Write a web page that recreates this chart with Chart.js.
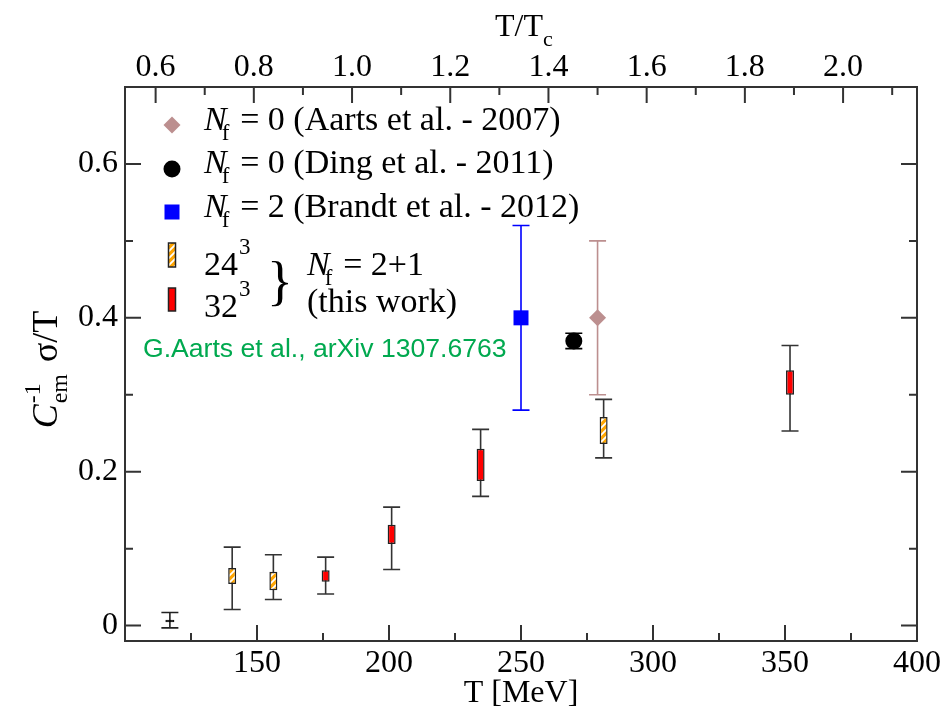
<!DOCTYPE html>
<html>
<head>
<meta charset="utf-8">
<script src="https://cdn.jsdelivr.net/npm/chart.js@4/dist/chart.umd.min.js"></script>
<style>
  html, body { margin: 0; padding: 0; background: #fff; }
  #wrap { width: 947px; height: 709px; }
</style>
</head>
<body>
<div id="wrap"><canvas id="chart" width="947" height="709"></canvas></div>
<script>
// axis ranges (T in MeV, top axis is T/Tc)
const Tc = 186;
const xRange = [100, 400];
const yRange = [-0.02, 0.7];

// earlier results: value with symmetric error
const aartsT = [279];
const aartsVal = [0.40];
const aartsErr = [0.10];

const dingT = [270];
const dingVal = [0.37];
const dingErr = [0.01];

const brandtT = [250];
const brandtVal = [0.40];
const brandtErr = [0.12];

// Nf = 2+1 (this work): box = [low, high], whisker = [low, high]
const l24T = [140.6, 156.2, 281.3];
const l24Box = [[0.054, 0.075], [0.046, 0.070], [0.236, 0.271]];
const l24Err = [[0.021, 0.102], [0.034, 0.092], [0.218, 0.294]];

const l32T = [176, 201, 234.7, 351.9];
const l32Box = [[0.057, 0.072], [0.106, 0.131], [0.188, 0.230], [0.300, 0.332]];
const l32Err = [[0.041, 0.089], [0.073, 0.154], [0.168, 0.255], [0.253, 0.364]];

const lowT = [117];
const lowBox = [[0.0045, 0.0075]];
const lowErr = [[-0.003, 0.017]];

const SERIF = '"Liberation Serif", "Times New Roman", serif';

function hatchPattern() {
  const c = document.createElement('canvas');
  c.width = 7; c.height = 7;
  const g = c.getContext('2d');
  g.fillStyle = '#ffa500';
  g.fillRect(0, 0, 7, 7);
  g.strokeStyle = '#ffffff';
  g.lineWidth = 1.8;
  g.beginPath();
  g.moveTo(-1, 8); g.lineTo(8, -1);
  g.moveTo(-1, 1); g.lineTo(1, -1);
  g.moveTo(6, 8); g.lineTo(8, 6);
  g.stroke();
  return g.createPattern(c, 'repeat');
}
const hatch = hatchPattern();

function pts(ts, vals) {
  return ts.map((t, i) => ({ x: t, y: vals[i] }));
}
function symErr(vals, errs) {
  return vals.map((v, i) => [v - errs[i], v + errs[i]]);
}

// whiskers under the markers
const errorBars = {
  id: 'errorBars',
  beforeDatasetsDraw(chart) {
    const { ctx, scales: { x, y } } = chart;
    chart.data.datasets.forEach(ds => {
      if (!ds.whiskers) return;
      ctx.save();
      ctx.strokeStyle = ds.whiskerColor;
      ctx.lineWidth = 1.6;
      ds.data.forEach((d, i) => {
        const [lo, hi] = ds.whiskers[i];
        const px = x.getPixelForValue(d.x);
        const y1 = y.getPixelForValue(lo);
        const y2 = y.getPixelForValue(hi);
        ctx.beginPath();
        ctx.moveTo(px, y1); ctx.lineTo(px, y2);
        ctx.moveTo(px - 8.5, y1); ctx.lineTo(px + 8.5, y1);
        ctx.moveTo(px - 8.5, y2); ctx.lineTo(px + 8.5, y2);
        ctx.stroke();
      });
      ctx.restore();
    });
  }
};

// frame, inward ticks, titles and the legend
const decorations = {
  id: 'decorations',
  afterDraw(chart) {
    const { ctx, chartArea: a, scales } = chart;
    ctx.save();
    ctx.strokeStyle = '#333';
    ctx.lineWidth = 2;
    ctx.strokeRect(a.left, a.top, a.right - a.left, a.bottom - a.top);

    ctx.beginPath();
    scales.x.ticks.forEach(t => {
      const px = scales.x.getPixelForValue(t.value);
      if (px <= a.left + 1 || px >= a.right - 1) return;
      const len = t.value % 50 === 0 ? 16 : 8;
      ctx.moveTo(px, a.bottom); ctx.lineTo(px, a.bottom - len);
    });
    scales.x2.ticks.forEach(t => {
      const px = scales.x2.getPixelForValue(t.value);
      if (px <= a.left + 1 || px >= a.right - 1) return;
      const len = Math.round(t.value * 10) % 2 === 0 ? 16 : 8;
      ctx.moveTo(px, a.top); ctx.lineTo(px, a.top + len);
    });
    scales.y.ticks.forEach(t => {
      const py = scales.y.getPixelForValue(t.value);
      if (py <= a.top + 1 || py >= a.bottom - 1) return;
      const len = Math.round(t.value * 10) % 2 === 0 ? 16 : 8;
      ctx.moveTo(a.left, py); ctx.lineTo(a.left + len, py);
      ctx.moveTo(a.right, py); ctx.lineTo(a.right - len, py);
    });
    ctx.stroke();

    ctx.fillStyle = '#000';
    ctx.textBaseline = 'alphabetic';
    // bottom title
    ctx.font = '32px ' + SERIF;
    ctx.textAlign = 'center';
    ctx.fillText('T [MeV]', (a.left + a.right) / 2, 702);
    // top title T/Tc
    ctx.textAlign = 'left';
    const tw = ctx.measureText('T/T').width;
    const tx = 524 - tw / 2 - 5;
    ctx.fillText('T/T', tx, 36);
    ctx.font = '22px ' + SERIF;
    ctx.fillText('c', tx + tw, 46);

    // y title, rotated
    ctx.save();
    ctx.translate(57, 370);
    ctx.rotate(-Math.PI / 2);
    ctx.font = 'italic 36px ' + SERIF;
    const cW = ctx.measureText('C').width;
    ctx.font = '24px ' + SERIF;
    const emW = ctx.measureText('em').width;
    ctx.font = '36px ' + SERIF;
    const sW = ctx.measureText('\u03c3/T').width;
    const gap = 12;
    const total = cW + emW + gap + sW;
    let cx = -total / 2;
    ctx.font = 'italic 36px ' + SERIF;
    ctx.fillText('C', cx, 0);
    cx += cW + 1;
    ctx.font = '24px ' + SERIF;
    ctx.fillText('-1', cx, -17);
    ctx.fillText('em', cx, 10);
    cx += emW + gap;
    ctx.font = '36px ' + SERIF;
    ctx.fillText('\u03c3/T', cx, 0);
    ctx.restore();

    drawLegend(ctx);
    ctx.restore();
  }
};

function nfLabel(ctx, x, base, rest) {
  ctx.font = 'italic 34px ' + SERIF;
  ctx.fillText('N', x, base);
  const nW = ctx.measureText('N').width;
  ctx.font = '23px ' + SERIF;
  ctx.fillText('f', x + nW - 5, base + 10);
  ctx.font = '34px ' + SERIF;
  ctx.fillText(rest, x + nW + 5, base);
}

function drawLegend(ctx) {
  const sx = 172, tx = 204;
  ctx.textAlign = 'left';
  ctx.fillStyle = '#000';

  // diamond
  ctx.fillStyle = '#bc8f8f';
  ctx.beginPath();
  ctx.moveTo(sx - 8.5, 125); ctx.lineTo(sx, 116.5); ctx.lineTo(sx + 8.5, 125); ctx.lineTo(sx, 133.5);
  ctx.closePath(); ctx.fill();
  // circle
  ctx.fillStyle = '#000';
  ctx.beginPath(); ctx.arc(sx, 169, 8.5, 0, Math.PI * 2); ctx.fill();
  // square
  ctx.fillStyle = '#0000ff';
  ctx.fillRect(sx - 7.5, 204.5, 15, 15);
  // boxes
  ctx.lineWidth = 1.5;
  ctx.strokeStyle = '#222';
  ctx.fillStyle = hatch;
  ctx.fillRect(sx - 3.5, 243, 7, 24); ctx.strokeRect(sx - 3.5, 243, 7, 24);
  ctx.fillStyle = '#ff0000';
  ctx.fillRect(sx - 3.5, 288, 7, 23); ctx.strokeRect(sx - 3.5, 288, 7, 23);

  ctx.fillStyle = '#000';
  nfLabel(ctx, tx, 130, ' = 0 (Aarts et al. - 2007)');
  nfLabel(ctx, tx, 173, ' = 0 (Ding et al. - 2011)');
  nfLabel(ctx, tx, 217, ' = 2 (Brandt et al. - 2012)');

  ctx.font = '34px ' + SERIF;
  ctx.fillText('24', tx, 275);
  ctx.fillText('32', tx, 317);
  const dW = ctx.measureText('24').width;
  ctx.font = '23px ' + SERIF;
  ctx.fillText('3', tx + dW + 1, 254);
  ctx.fillText('3', tx + dW + 1, 296);

  ctx.font = '54px ' + SERIF;
  ctx.fillText('}', 267, 299);

  nfLabel(ctx, 307, 275, ' = 2+1');
  ctx.font = '34px ' + SERIF;
  ctx.fillText('(this work)', 307, 312);

  ctx.fillStyle = '#00a94f';
  ctx.font = '26.6px "Liberation Sans", Arial, sans-serif';
  ctx.fillText('G.Aarts et al., arXiv 1307.6763', 143, 357);
}

const tickFont = { family: SERIF, size: 32 };

new Chart(document.getElementById('chart'), {
  type: 'scatter',
  data: {
    datasets: [
      {
        label: 'Nf=0 (Aarts et al. - 2007)',
        data: pts(aartsT, aartsVal),
        whiskers: symErr(aartsVal, aartsErr),
        whiskerColor: '#bc8f8f',
        pointStyle: 'rectRot',
        pointRadius: 8.5,
        backgroundColor: '#bc8f8f',
        borderWidth: 0
      },
      {
        label: 'Nf=0 (Ding et al. - 2011)',
        data: pts(dingT, dingVal),
        whiskers: symErr(dingVal, dingErr),
        whiskerColor: '#000',
        pointStyle: 'circle',
        pointRadius: 8.5,
        backgroundColor: '#000',
        borderWidth: 0
      },
      {
        label: 'Nf=2 (Brandt et al. - 2012)',
        data: pts(brandtT, brandtVal),
        whiskers: symErr(brandtVal, brandtErr),
        whiskerColor: '#0000ff',
        pointStyle: 'rect',
        pointRadius: 10.6,
        backgroundColor: '#0000ff',
        borderWidth: 0
      },
      {
        type: 'bar',
        label: '24^3',
        data: pts(l24T, l24Box),
        whiskers: l24Err,
        whiskerColor: '#333',
        backgroundColor: hatch,
        borderColor: '#222',
        borderWidth: 1.5,
        borderSkipped: false,
        grouped: false,
        maxBarThickness: 8
      },
      {
        type: 'bar',
        label: '32^3',
        data: pts(l32T, l32Box),
        whiskers: l32Err,
        whiskerColor: '#333',
        backgroundColor: '#ff0000',
        borderColor: '#222',
        borderWidth: 1.5,
        borderSkipped: false,
        grouped: false,
        maxBarThickness: 8
      },
      {
        type: 'bar',
        label: 'low T',
        data: pts(lowT, lowBox),
        whiskers: lowErr,
        whiskerColor: '#222',
        backgroundColor: '#000',
        borderColor: '#000',
        borderWidth: 1,
        borderSkipped: false,
        grouped: false,
        maxBarThickness: 9
      }
    ]
  },
  options: {
    responsive: false,
    animation: false,
    devicePixelRatio: 1,
    layout: { padding: { left: 0, right: 30, top: 0, bottom: 0 } },
    plugins: { legend: { display: false }, tooltip: { enabled: false } },
    scales: {
      x: {
        type: 'linear',
        position: 'bottom',
        min: xRange[0],
        max: xRange[1],
        offset: false,
        grid: { display: false, drawTicks: false },
        border: { display: false },
        ticks: {
          stepSize: 25,
          includeBounds: false,
          maxTicksLimit: 100,
          autoSkip: false,
          maxRotation: 0,
          padding: 3,
          color: '#000',
          font: tickFont,
          callback: v => (v % 50 === 0 && v > xRange[0]) ? String(v) : ''
        },
        afterFit: s => { s.height = 68; }
      },
      x2: {
        type: 'linear',
        position: 'top',
        min: xRange[0] / Tc,
        max: xRange[1] / Tc,
        grid: { display: false, drawTicks: false },
        border: { display: false },
        ticks: {
          stepSize: 0.1,
          includeBounds: false,
          maxTicksLimit: 100,
          autoSkip: false,
          maxRotation: 0,
          padding: 0,
          color: '#000',
          font: tickFont,
          callback: v => Math.round(v * 10) % 2 === 0 ? v.toFixed(1) : ''
        },
        afterFit: s => { s.height = 87; }
      },
      y: {
        type: 'linear',
        position: 'left',
        min: yRange[0],
        max: yRange[1],
        grid: { display: false, drawTicks: false },
        border: { display: false },
        ticks: {
          stepSize: 0.1,
          includeBounds: false,
          maxTicksLimit: 100,
          autoSkip: false,
          padding: 7,
          color: '#000',
          font: tickFont,
          callback: v => (Math.round(v * 10) % 2 === 0 && v >= 0) ? (Math.abs(v) < 1e-9 ? '0' : v.toFixed(1)) : ''
        },
        afterFit: s => { s.width = 125; }
      }
    }
  },
  plugins: [errorBars, decorations]
});
</script>
</body>
</html>
